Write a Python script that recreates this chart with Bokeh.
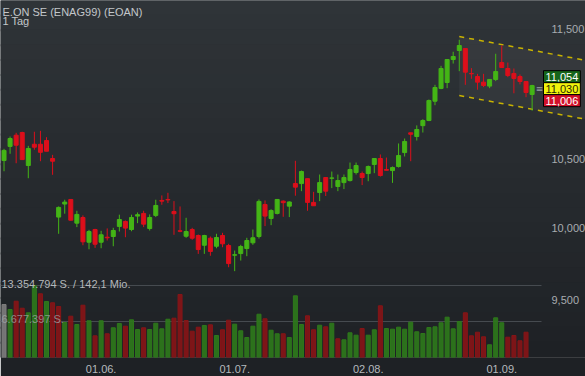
import math
from bokeh.plotting import figure
from bokeh.models import (Range1d, LinearScale, FixedTicker, CustomJSTickFormatter,
                          Label, BoxAnnotation, ColumnDataSource, LogAxis)
from bokeh.embed import file_html
from bokeh.resources import INLINE

# ---------------- data ----------------
title_text = "E.ON SE (ENAG99) (EOAN)"
period_text = "1 Tag"

opens = [10.485, 10.590, 10.674, 10.694, 10.448, 10.606, 10.606, 10.634, 10.500, 10.075,
         10.168, 10.201, 10.032, 10.072, 9.898, 9.987, 9.898, 9.933, 9.938, 10.009,
         10.044, 9.987, 10.082, 10.101, 9.994, 10.087, 10.194, 10.201, 10.115, 9.978,
         9.940, 9.987, 9.945, 9.877, 9.926, 9.870, 9.945, 9.875, 9.808, 9.819,
         9.854, 9.894, 9.938, 10.165, 10.065, 10.101, 10.189, 10.153, 10.316, 10.316,
         10.352, 10.180, 10.251, 10.360, 10.355, 10.295, 10.323, 10.338, 10.397, 10.389,
         10.389, 10.456, 10.500, 10.419, 10.411, 10.441, 10.544, 10.692, 10.664, 10.746,
         10.785, 10.933, 11.032, 11.078, 11.259, 11.331, 11.347, 11.149, 11.125, 11.081,
         11.050, 11.102, 11.235, 11.188, 11.149, 11.125, 11.086, 10.985]
highs = [10.572, 10.664, 10.692, 10.700, 10.594, 10.700, 10.707, 10.659, 10.527, 10.151,
         10.199, 10.201, 10.120, 10.087, 9.985, 9.992, 9.978, 9.995, 9.999, 10.092,
         10.051, 10.092, 10.108, 10.120, 10.094, 10.199, 10.230, 10.249, 10.189, 10.151,
         10.070, 9.999, 9.952, 9.950, 9.938, 9.957, 9.964, 9.887, 9.840, 9.880,
         9.929, 9.987, 10.201, 10.194, 10.131, 10.203, 10.194, 10.187, 10.483, 10.411,
         10.352, 10.256, 10.382, 10.360, 10.404, 10.382, 10.382, 10.470, 10.470, 10.404,
         10.448, 10.500, 10.530, 10.507, 10.441, 10.612, 10.649, 10.692, 10.748, 10.795,
         10.946, 11.060, 11.209, 11.259, 11.321, 11.417, 11.347, 11.191, 11.146, 11.146,
         11.102, 11.305, 11.371, 11.235, 11.188, 11.141, 11.086, 11.060]
lows = [10.406, 10.535, 10.465, 10.490, 10.355, 10.565, 10.480, 10.554, 10.380, 9.957,
        10.099, 10.051, 10.004, 9.877, 9.849, 9.859, 9.856, 9.910, 9.870, 9.973,
        9.933, 9.975, 10.032, 10.004, 9.980, 10.075, 10.163, 10.175, 9.950, 9.968,
        9.929, 9.915, 9.817, 9.817, 9.804, 9.856, 9.863, 9.725, 9.698, 9.771,
        9.801, 9.880, 9.924, 10.011, 10.018, 10.094, 10.077, 10.075, 10.228, 10.261,
        10.120, 10.156, 10.189, 10.226, 10.283, 10.261, 10.276, 10.331, 10.382, 10.305,
        10.333, 10.392, 10.367, 10.413, 10.321, 10.433, 10.515, 10.480, 10.634, 10.694,
        10.780, 10.902, 11.026, 11.034, 11.227, 11.167, 11.060, 11.107, 11.022, 11.042,
        11.034, 11.089, 11.196, 11.120, 10.994, 11.063, 10.964, 10.860]
closes = [10.560, 10.649, 10.599, 10.492, 10.574, 10.584, 10.546, 10.554, 10.480, 10.144,
          10.182, 10.053, 10.094, 9.901, 9.973, 9.884, 9.950, 9.929, 9.980, 10.058,
          9.997, 10.072, 10.092, 10.025, 10.072, 10.158, 10.189, 10.198, 10.099, 9.975,
          9.973, 9.926, 9.847, 9.945, 9.834, 9.931, 9.887, 9.750, 9.811, 9.868,
          9.910, 9.929, 10.187, 10.082, 10.122, 10.201, 10.178, 10.183, 10.290, 10.404,
          10.180, 10.156, 10.323, 10.261, 10.357, 10.338, 10.360, 10.419, 10.448, 10.360,
          10.441, 10.500, 10.375, 10.413, 10.433, 10.522, 10.627, 10.681, 10.717, 10.785,
          10.938, 11.039, 11.188, 11.259, 11.283, 11.371, 11.159, 11.146, 11.081, 11.055,
          11.102, 11.164, 11.196, 11.133, 11.110, 11.086, 11.000, 11.054]
volumes = [9830000, 8900000, 10440000, 9140000, 8290000, 13354794, 11820000, 10390000, 10150000, 9460000,
           6490000, 7660000, 6120000, 9700000, 6810000, 4020000, 6810000, 4400000, 5510000, 6310000,
           5810000, 6990000, 5190000, 5510000, 5190000, 6360000, 5320000, 7100000, 7290000, 11690000,
           6860000, 4880000, 5620000, 5940000, 6060000, 4080000, 5140000, 6920000, 6180000, 4950000,
           3710000, 5810000, 8030000, 7180000, 5060000, 4400000, 4400000, 3710000, 11440000, 6120000,
           7730000, 5140000, 5990000, 5690000, 6360000, 3470000, 3280000, 4580000, 4140000, 5380000,
           4140000, 5140000, 9590000, 5380000, 5250000, 5620000, 5250000, 6550000, 4770000, 4450000,
           5560000, 5690000, 6440000, 7480000, 5320000, 6680000, 8290000, 4020000, 4690000, 3840000,
           2360000, 7360000, 6440000, 3770000, 4080000, 3100000, 4690000, float("nan")]

x_tick_idx = [16, 38, 60, 82]
x_tick_labels = ["01.06.", "01.07.", "02.08.", "01.09."]
price_ticks = [9.5, 10.0, 10.5, 11.5]

vol_max = 13354794
vol_half = 6677397
vol_max_text = "13.354.794 S. / 142,1 Mio."
vol_half_text = "6.677.397 S."

box_values = [11.054, 11.030, 11.006]

channel_x = [75, 96]
channel_upper = [11.443, 11.251]
channel_lower = [10.977, 10.793]

# ---------------- styles / layout ----------------
GREEN = "#44b516"
RED = "#dc0f1b"
VGREEN = "#2e781b"
VRED = "#861517"
VGRAY = "#7c7c7c"
FONT = "Liberation Sans"

W, H = 585, 376
FB = 357            # frame bottom (canvas px)
PX_PER_BAR = 6.07   # horizontal spacing of one trading day
X0 = -0.58          # x range start (index units)
AXIS_X = X0 + 541 / PX_PER_BAR   # price axis location (index units)

idx = list(range(len(opens)))
colors = [GREEN if c >= o else RED for o, c in zip(opens, closes)]
body_top = [max(o, c) for o, c in zip(opens, closes)]
body_bot = [min(o, c) for o, c in zip(opens, closes)]
vcolors = [VGRAY] + [VGREEN if closes[i] >= closes[i - 1] else VRED for i in range(1, len(closes))]

src = ColumnDataSource(dict(idx=idx, open=opens, high=highs, low=lows, close=closes,
                            color=colors, top=body_top, bot=body_bot,
                            vol=volumes, vcolor=vcolors))

p = figure(width=W, height=H, x_range=Range1d(X0, X0 + W / PX_PER_BAR),
           y_range=Range1d(9.1252, 11.7376), y_axis_type="log",
           y_axis_location=None, toolbar_location=None, output_backend="svg",
           min_border_left=0, min_border_right=0, min_border_top=0,
           min_border_bottom=H - FB,
           background_fill_color="#272b2f", border_fill_color="#1e2125")
p.outline_line_color = None
p.xgrid.visible = False
p.ygrid.visible = False
p.extra_y_ranges = {"vol": Range1d(0, vol_max * FB / 72.0)}
p.extra_y_scales = {"vol": LinearScale()}

# background gradient bands (styling)
top_rgb = (47, 52, 56)
bot_rgb = (30, 33, 37)
nb = 24
for k in range(nb):
    y0 = FB * k / nb
    y1 = FB * (k + 1) / nb
    t = (k + 0.5) / nb
    c = tuple(int(round(a + (b - a) * t)) for a, b in zip(top_rgb, bot_rgb))
    p.add_layout(BoxAnnotation(top=FB - y0 + 1, bottom=FB - y1 - 1,
                               top_units="screen", bottom_units="screen",
                               fill_color="#%02x%02x%02x" % c, fill_alpha=1.0,
                               line_color=None, level="underlay"))

# price axis drawn inside the frame at a fixed location
yax = LogAxis(ticker=FixedTicker(ticks=price_ticks),
              formatter=CustomJSTickFormatter(code="return tick.toFixed(3).replace('.', ',');"),
              fixed_location=AXIS_X)
yax.axis_line_color = None
yax.major_tick_line_color = None
yax.minor_tick_line_color = None
yax.major_label_standoff = 4
yax.major_label_text_font = FONT
yax.major_label_text_font_size = "11px"
yax.major_label_text_color = "#a8acb0"
p.add_layout(yax, "right")

xax = p.xaxis[0]
xax.ticker = FixedTicker(ticks=x_tick_idx)
xax.major_label_overrides = dict(zip(x_tick_idx, x_tick_labels))
xax.axis_line_color = None
xax.major_tick_line_color = None
xax.minor_tick_line_color = None
xax.major_label_standoff = 1
xax.major_label_text_font = FONT
xax.major_label_text_font_size = "11px"
xax.major_label_text_color = "#b6babd"

# volume reference lines (up to the price axis)
p.segment(x0=[X0, X0], x1=[AXIS_X, AXIS_X], y0=[vol_max, vol_half], y1=[vol_max, vol_half],
          y_range_name="vol", line_color="#464b50", line_width=1)

p.add_layout(Label(x=1, y=FB - 283, x_units="screen", y_units="screen", text=vol_max_text,
                   text_font=FONT, text_font_size="11px", text_color="#b4b8bb",
                   text_baseline="alphabetic"))

# channel
p.patch(x=[channel_x[0], channel_x[1], channel_x[1], channel_x[0]],
        y=[channel_upper[0], channel_upper[1], channel_lower[1], channel_lower[0]],
        fill_color="white", fill_alpha=0.045, line_color=None)
p.line(channel_x, channel_upper, line_color="#c9b300", line_width=1.5, line_dash="5 5")
p.line(channel_x, channel_lower, line_color="#c9b300", line_width=1.5, line_dash="5 5")

# volume bars
p.vbar(x="idx", width=0.66, top="vol", bottom=0, source=src, y_range_name="vol",
       fill_color="vcolor", line_color="vcolor", fill_alpha=0.92, line_alpha=1.0)

p.add_layout(Label(x=1, y=FB - 318, x_units="screen", y_units="screen", text=vol_half_text,
                   text_font=FONT, text_font_size="11px", text_color="#a4a8ac",
                   text_alpha=0.75, text_baseline="alphabetic"))

# candles
p.segment(x0="idx", y0="low", x1="idx", y1="high", source=src, line_color="color", line_width=1)
p.vbar(x="idx", width=0.66, top="top", bottom="bot", source=src,
       fill_color="color", line_color="color", line_width=1)

# title
p.add_layout(Label(x=2, y=FB - 11.5, x_units="screen", y_units="screen", text=title_text,
                   text_font=FONT, text_font_size="11px", text_color="#c3c7ca",
                   text_baseline="alphabetic"))
p.add_layout(Label(x=2, y=FB - 20.5, x_units="screen", y_units="screen", text=period_text,
                   text_font=FONT, text_font_size="11px", text_color="#c3c7ca",
                   text_baseline="alphabetic"))

# price boxes
box_bg = ["#17651a", "#f2f20c", "#d2102a"]
box_fg = ["#ffffff", "#2a2a00", "#ffffff"]
box_off = [12, 0, -12]
for v, bg, fg, off in zip(box_values, box_bg, box_fg, box_off):
    p.add_layout(Label(x=543, x_units="screen", y=box_values[1], y_units="data", y_offset=off,
                       text=("%.3f" % v).replace(".", ","), text_font=FONT,
                       text_font_size="11px", text_color=fg, text_baseline="middle",
                       background_fill_color=bg, border_line_color="black",
                       border_line_width=1, padding=2))
p.add_layout(Label(x=539, x_units="screen", y=box_values[1], y_units="data",
                   text="\u2261", text_font="DejaVu Sans", text_font_size="9px",
                   text_color="#9aa0a4", text_baseline="middle", text_align="center"))

open("out.html", "w").write(file_html(p, INLINE))
